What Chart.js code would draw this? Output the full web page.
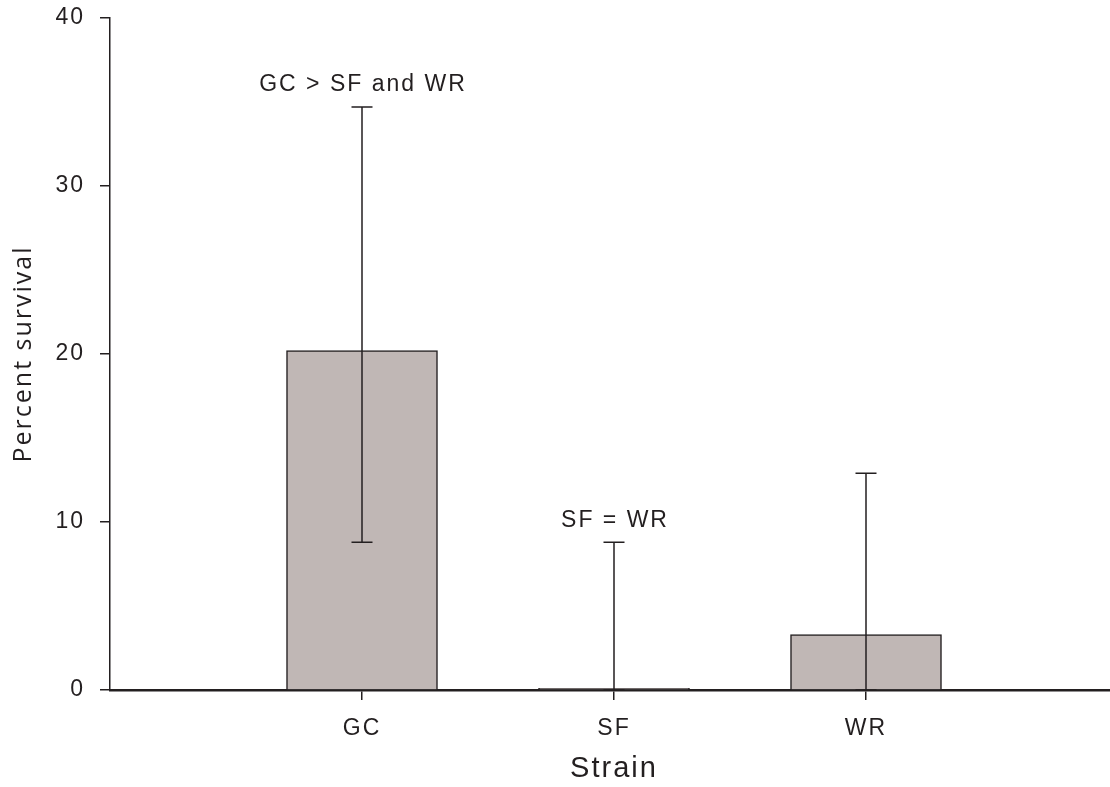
<!DOCTYPE html>
<html>
<head>
<meta charset="utf-8">
<script src="https://cdn.jsdelivr.net/npm/chart.js@4.4.0/dist/chart.umd.min.js"></script>
<style>
	body { margin: 0; background: #fff; overflow: hidden; }
</style>
</head>
<body>
<canvas id="grafico" width="1120" height="787"></canvas>
<script>
// dados
var categorias = ["GC", "SF", "WR"];
var medias = [20.2, 0.1, 3.3];
var limiteSup = [34.7, 8.8, 12.9];
var limiteInf = [8.8, 0, 0];
var notas = ["GC > SF and WR", "SF = WR", ""];
var ticksY = [0, 10, 20, 30, 40];

var corTexto = "#231f20";
var fonte = "'Liberation Sans', Arial, sans-serif";

// espacamento entre letras (o chart.js nao tem esta opcao)
var espacoPlugin = {
	id: 'espaco',
	beforeUpdate: (chart) => { chart.ctx.letterSpacing = '2px'; },
	beforeDraw: (chart) => { chart.ctx.letterSpacing = '2px'; }
};

// barras de erro e notas por cima das barras
var errosPlugin = {
	id: 'erros',
	afterDatasetsDraw: (chart) => {
		var ctx = chart.ctx;
		var sx = chart.scales.x, sy = chart.scales.y;
		ctx.save();
		ctx.strokeStyle = corTexto;
		ctx.lineWidth = 1.5;
		for (let i = 0; i < categorias.length; i++) {
			let x = sx.getPixelForValue(i + 1);
			let yS = sy.getPixelForValue(limiteSup[i]);
			let yI = sy.getPixelForValue(limiteInf[i]);
			ctx.beginPath();
			ctx.moveTo(x, yS); ctx.lineTo(x, yI);
			ctx.moveTo(x - 10.5, yS); ctx.lineTo(x + 10.5, yS);
			ctx.moveTo(x - 10.5, yI); ctx.lineTo(x + 10.5, yI);
			ctx.stroke();
			if (notas[i]) {
				ctx.fillStyle = corTexto;
				ctx.font = "23px " + fonte;
				ctx.textAlign = "center";
				ctx.textBaseline = "middle";
				ctx.fillText(notas[i], x + 1, yS - 22);
			}
		}
		ctx.restore();
	}
};

desenhar = () => {
	var ctxGrafico = document.getElementById("grafico").getContext('2d');
	var meuGrafico = new Chart(ctxGrafico, {
		type: 'bar',
		data: {
			datasets: [{
				label: 'Percent survival',
				data: medias.map((v, i) => ({ x: i + 1, y: v })),
				backgroundColor: '#c0b7b5',
				borderColor: corTexto,
				borderWidth: 1.5,
				borderSkipped: 'bottom',
				barThickness: 151
			}]
		},
		options: {
			responsive: false,
			animation: false,
			devicePixelRatio: 1,
			layout: { padding: { top: 18, right: 2, left: 0, bottom: 0 } },
			plugins: { legend: { display: false }, tooltip: { enabled: false } },
			scales: {
				x: {
					type: 'linear',
					offset: false,
					min: 0,
					max: 4,
					afterBuildTicks: (scale) => {
						scale.ticks = categorias.map((c, i) => ({ value: i + 1 }));
					},
					afterFit: (scale) => { scale.height = 97; scale.paddingLeft = 0; scale.paddingRight = 0; },
					border: { display: true, color: corTexto, width: 2.5 },
					grid: { offset: false, drawOnChartArea: false, drawTicks: true, tickLength: 10, color: corTexto, lineWidth: 1.5 },
					ticks: {
						padding: 15,
						color: corTexto,
						font: { family: fonte, size: 23 },
						maxRotation: 0,
						callback: (v) => categorias[v - 1]
					},
					title: {
						display: true,
						text: 'Strain',
						color: corTexto,
						font: { family: fonte, size: 29 },
						padding: { top: 0, bottom: 1 }
					}
				},
				y: {
					min: 0,
					max: 40,
					afterBuildTicks: (scale) => {
						scale.ticks = ticksY.map((t) => ({ value: t }));
					},
					afterFit: (scale) => { scale.width = 110; scale.paddingTop = 0; scale.paddingBottom = 0; },
					border: { display: true, color: corTexto, width: 1.5 },
					grid: { drawOnChartArea: false, drawTicks: true, tickLength: 10, color: corTexto, lineWidth: 1.5 },
					ticks: {
						padding: 15,
						color: corTexto,
						font: { family: fonte, size: 23 }
					},
					title: {
						display: true,
						text: 'Percent survival',
						color: corTexto,
						font: { family: "'Open Sans', sans-serif", size: 25 },
						padding: { top: 9, bottom: 0 }
					}
				}
			}
		},
		plugins: [espacoPlugin, errosPlugin]
	});
}

Promise.all([
	document.fonts.load("25px 'Open Sans'"),
	document.fonts.load("23px 'Liberation Sans'")
]).then(desenhar, desenhar);
</script>
</body>
</html>
